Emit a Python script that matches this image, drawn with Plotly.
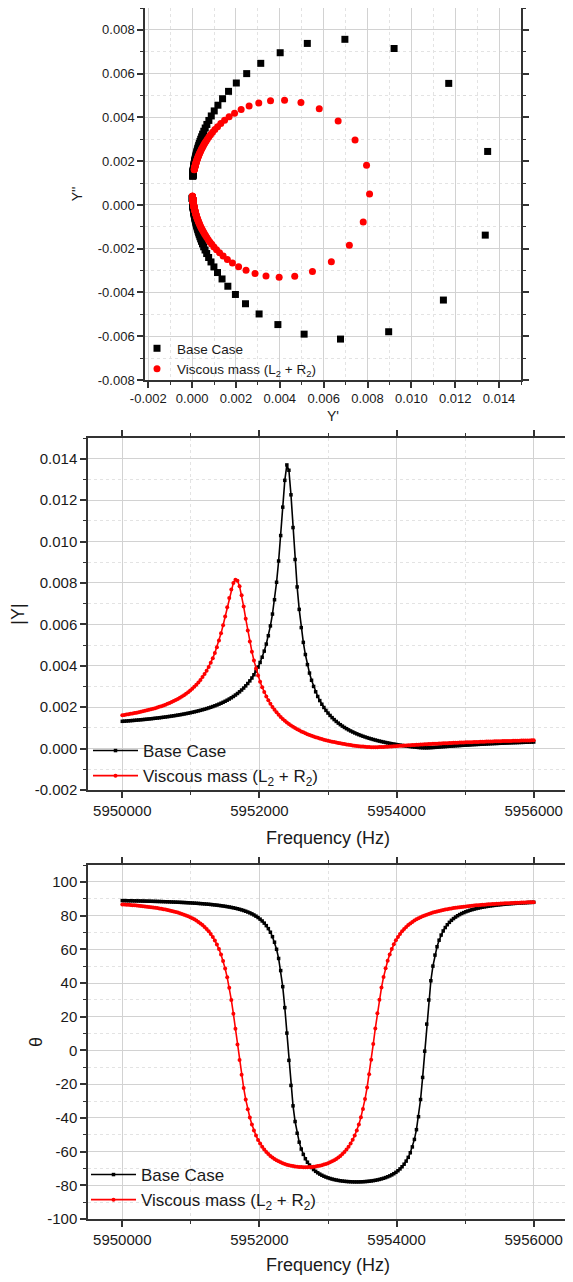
import numpy as np
import plotly.graph_objects as go

# ---------------- data ----------------
SERIES_NAMES = ["Base Case", "Viscous mass (L<sub>2</sub> + R<sub>2</sub>)"]

# frequency sweep (Hz): 5950000 .. 5956000, 30 Hz step
freq_hz = list(range(5950000, 5956001, 30))

# |Y| of the base case, in units of 1e-4 S
absY_base_e4 = [
    13.167, 13.242, 13.318, 13.397, 13.478, 13.560, 13.646, 13.734, 13.823, 13.916,
    14.010, 14.108, 14.209, 14.313, 14.419, 14.529, 14.643, 14.759, 14.879, 15.004,
    15.133, 15.265, 15.403, 15.544, 15.692, 15.844, 16.002, 16.166, 16.335, 16.512,
    16.696, 16.886, 17.085, 17.292, 17.507, 17.733, 17.968, 18.214, 18.470, 18.740,
    19.023, 19.320, 19.632, 19.960, 20.306, 20.672, 21.058, 21.467, 21.900, 22.361,
    22.851, 23.374, 23.932, 24.530, 25.172, 25.863, 26.609, 27.416, 28.291, 29.246,
    30.289, 31.435, 32.698, 34.096, 35.654, 37.398, 39.362, 41.591, 44.139, 47.074,
    50.489, 54.498, 59.257, 64.966, 71.882, 80.318, 90.601, 102.876, 116.61, 129.55,
    136.99, 134.41, 122.57, 106.74, 91.313, 78.073, 67.226, 58.437, 51.294, 45.429,
    40.561, 36.471, 32.996, 30.015, 27.431, 25.173, 23.184, 21.421, 19.847, 18.436,
    17.161, 16.006, 14.954, 13.993, 13.110, 12.298, 11.547, 10.852, 10.206, 9.605,
    9.044, 8.519, 8.026, 7.564, 7.128, 6.718, 6.331, 5.964, 5.618, 5.288,
    4.975, 4.678, 4.395, 4.126, 3.869, 3.623, 3.389, 3.164, 2.949, 2.744,
    2.546, 2.357, 2.176, 2.001, 1.834, 1.674, 1.520, 1.372, 1.231, 1.096,
    0.968, 0.847, 0.734, 0.630, 0.538, 0.462, 0.407, 0.380, 0.383, 0.413,
    0.463, 0.526, 0.597, 0.671, 0.747, 0.824, 0.901, 0.977, 1.052, 1.126,
    1.199, 1.270, 1.341, 1.409, 1.477, 1.543, 1.607, 1.670, 1.732, 1.793,
    1.852, 1.910, 1.967, 2.023, 2.078, 2.131, 2.184, 2.235, 2.286, 2.335,
    2.383, 2.431, 2.477, 2.523, 2.568, 2.612, 2.655, 2.698, 2.739, 2.780,
    2.820, 2.859, 2.898, 2.936, 2.974, 3.010, 3.046, 3.082, 3.117, 3.151,
    3.185,
]

# phase of the base case, degrees
theta_base = [
    88.87, 88.85, 88.82, 88.80, 88.78, 88.75, 88.72, 88.70, 88.67, 88.64,
    88.61, 88.58, 88.55, 88.52, 88.49, 88.45, 88.42, 88.38, 88.34, 88.30,
    88.26, 88.21, 88.17, 88.12, 88.07, 88.02, 87.97, 87.92, 87.86, 87.80,
    87.74, 87.67, 87.60, 87.53, 87.45, 87.37, 87.29, 87.21, 87.11, 87.02,
    86.92, 86.81, 86.70, 86.58, 86.45, 86.31, 86.17, 86.02, 85.85, 85.68,
    85.49, 85.29, 85.08, 84.85, 84.60, 84.33, 84.04, 83.72, 83.37, 82.99,
    82.57, 82.10, 81.59, 81.02, 80.37, 79.65, 78.82, 77.88, 76.80, 75.53,
    74.04, 72.26, 70.12, 67.48, 64.19, 60.00, 54.56, 47.37, 37.82, 25.39,
    10.28, -5.89, -20.77, -32.88, -42.17, -49.14, -54.42, -58.49, -61.68, -64.24,
    -66.32, -68.03, -69.46, -70.68, -71.73, -72.60, -73.37, -74.03, -74.62, -75.13,
    -75.57, -75.97, -76.31, -76.62, -76.88, -77.11, -77.31, -77.49, -77.63, -77.75,
    -77.84, -77.91, -77.96, -77.99, -78.00, -77.99, -77.95, -77.89, -77.81, -77.71,
    -77.58, -77.43, -77.25, -77.04, -76.80, -76.52, -76.20, -75.84, -75.43, -74.96,
    -74.43, -73.82, -73.12, -72.31, -71.38, -70.29, -69.01, -67.49, -65.66, -63.44,
    -60.69, -57.23, -52.79, -47.01, -39.32, -29.13, -16.01, -0.45, 15.61, 29.92,
    41.34, 50.03, 56.56, 61.53, 65.39, 68.44, 70.89, 72.90, 74.57, 75.98,
    77.18, 78.21, 79.12, 79.90, 80.60, 81.22, 81.77, 82.27, 82.71, 83.12,
    83.49, 83.83, 84.14, 84.42, 84.68, 84.93, 85.15, 85.36, 85.56, 85.74,
    85.91, 86.07, 86.22, 86.36, 86.49, 86.62, 86.74, 86.85, 86.95, 87.05,
    87.15, 87.24, 87.32, 87.40, 87.48, 87.56, 87.63, 87.69, 87.76, 87.82,
    87.88,
]

# |Y| of the viscous-mass case, in units of 1e-4 S
absY_visc_e4 = [
    16.120, 16.276, 16.438, 16.607, 16.782, 16.963, 17.151, 17.347, 17.551, 17.763,
    17.984, 18.215, 18.456, 18.708, 18.971, 19.247, 19.536, 19.840, 20.158, 20.494,
    20.846, 21.219, 21.612, 22.028, 22.468, 22.935, 23.432, 23.960, 24.523, 25.126,
    25.771, 26.463, 27.207, 28.010, 28.877, 29.818, 30.840, 31.956, 33.175, 34.514,
    35.988, 37.618, 39.424, 41.435, 43.677, 46.188, 48.999, 52.148, 55.660, 59.548,
    63.780, 68.257, 72.748, 76.862, 80.025, 81.592, 81.080, 78.423, 74.034, 68.591,
    62.763, 57.034, 51.682, 46.828, 42.496, 38.661, 35.275, 32.285, 29.638, 27.289,
    25.194, 23.320, 21.636, 20.117, 18.741, 17.490, 16.348, 15.303, 14.344, 13.459,
    12.642, 11.886, 11.183, 10.529, 9.918, 9.348, 8.813, 8.311, 7.839, 7.395,
    6.976, 6.580, 6.205, 5.850, 5.513, 5.193, 4.890, 4.600, 4.325, 4.062,
    3.812, 3.573, 3.344, 3.126, 2.917, 2.717, 2.526, 2.344, 2.169, 2.003,
    1.844, 1.693, 1.549, 1.413, 1.286, 1.167, 1.057, 0.958, 0.870, 0.797,
    0.738, 0.698, 0.675, 0.671, 0.685, 0.713, 0.754, 0.804, 0.860, 0.921,
    0.985, 1.052, 1.119, 1.187, 1.255, 1.323, 1.391, 1.457, 1.523, 1.588,
    1.652, 1.715, 1.777, 1.838, 1.898, 1.957, 2.014, 2.071, 2.126, 2.181,
    2.234, 2.287, 2.338, 2.389, 2.439, 2.487, 2.535, 2.582, 2.628, 2.673,
    2.718, 2.761, 2.804, 2.846, 2.888, 2.928, 2.968, 3.007, 3.046, 3.084,
    3.121, 3.158, 3.194, 3.229, 3.264, 3.298, 3.332, 3.365, 3.398, 3.430,
    3.462, 3.493, 3.523, 3.554, 3.583, 3.613, 3.641, 3.670, 3.698, 3.725,
    3.753, 3.779, 3.806, 3.832, 3.857, 3.883, 3.908, 3.932, 3.956, 3.980,
    4.004,
]

# phase of the viscous-mass case, degrees
theta_visc = [
    86.64, 86.55, 86.46, 86.36, 86.26, 86.16, 86.05, 85.94, 85.82, 85.69,
    85.56, 85.42, 85.27, 85.12, 84.96, 84.79, 84.61, 84.43, 84.23, 84.01,
    83.79, 83.55, 83.30, 83.03, 82.75, 82.44, 82.12, 81.77, 81.39, 80.99,
    80.55, 80.08, 79.57, 79.01, 78.41, 77.75, 77.02, 76.22, 75.34, 74.35,
    73.26, 72.03, 70.64, 69.07, 67.29, 65.23, 62.86, 60.11, 56.90, 53.10,
    48.63, 43.36, 37.16, 29.95, 21.78, 12.85, 3.52, -5.72, -14.40, -22.22,
    -29.04, -34.87, -39.82, -43.99, -47.52, -50.52, -53.07, -55.27, -57.16, -58.80,
    -60.23, -61.48, -62.58, -63.54, -64.39, -65.14, -65.81, -66.39, -66.91, -67.35,
    -67.75, -68.09, -68.39, -68.63, -68.84, -69.00, -69.13, -69.22, -69.27, -69.29,
    -69.27, -69.22, -69.13, -69.00, -68.83, -68.63, -68.38, -68.08, -67.74, -67.34,
    -66.89, -66.38, -65.79, -65.12, -64.38, -63.52, -62.56, -61.45, -60.20, -58.77,
    -57.12, -55.22, -53.02, -50.45, -47.44, -43.90, -39.71, -34.74, -28.88, -22.04,
    -14.20, -5.50, 3.75, 13.07, 21.99, 30.13, 37.31, 43.49, 48.76, 53.20,
    56.97, 60.18, 62.93, 65.29, 67.33, 69.11, 70.67, 72.06, 73.28, 74.38,
    75.36, 76.24, 77.04, 77.76, 78.42, 79.03, 79.58, 80.09, 80.56, 81.00,
    81.40, 81.78, 82.13, 82.45, 82.76, 83.04, 83.31, 83.56, 83.80, 84.02,
    84.23, 84.43, 84.62, 84.80, 84.97, 85.13, 85.28, 85.42, 85.56, 85.69,
    85.82, 85.94, 86.05, 86.16, 86.27, 86.37, 86.46, 86.56, 86.65, 86.73,
    86.81, 86.89, 86.97, 87.04, 87.11, 87.18, 87.24, 87.31, 87.37, 87.42,
    87.48, 87.54, 87.59, 87.64, 87.69, 87.74, 87.78, 87.83, 87.87, 87.91,
    87.95,
]

# tick values
x1_ticks = [-0.002, 0.000, 0.002, 0.004, 0.006, 0.008, 0.010, 0.012, 0.014]
y1_ticks = [-0.008, -0.006, -0.004, -0.002, 0.000, 0.002, 0.004, 0.006, 0.008]
freq_ticks = [5950000, 5952000, 5954000, 5956000]
y2_ticks = [-0.002, 0.000, 0.002, 0.004, 0.006, 0.008, 0.010, 0.012, 0.014]
y3_ticks = [-100, -80, -60, -40, -20, 0, 20, 40, 60, 80, 100]

# ---------------- derived (polar -> cartesian for the Nyquist plot) ----------------
absY_base = np.array(absY_base_e4) * 1e-4
absY_visc = np.array(absY_visc_e4) * 1e-4
tb = np.radians(theta_base)
tv = np.radians(theta_visc)
Yr_base, Yi_base = absY_base * np.cos(tb), absY_base * np.sin(tb)
Yr_visc, Yi_visc = absY_visc * np.cos(tv), absY_visc * np.sin(tv)

# ---------------- styling ----------------
OFF = 8                     # page body margin of the exported html
W, H = 573 - OFF, 1282 - OFF
FONT = "Liberation Sans, Arial, sans-serif"
AX = "#333333"
BLACK, RED = "#000000", "#ff0000"


def px_x(a, b):
    return [(a - OFF) / W, (b - OFF) / W]


def px_y(top, bottom):
    return [max(0.0, 1 - (bottom - OFF) / H), min(1.0, 1 - (top - OFF) / H)]


def axis(rng, ticks, labels, minor_dtick, minor_tick0, tsize, title, tfs, standoff, domain, anchor):
    return dict(
        range=rng, domain=domain, anchor=anchor,
        tickmode="array", tickvals=ticks, ticktext=labels,
        showline=True, linecolor=AX, linewidth=1.5, mirror="ticks",
        ticks="outside", ticklen=6, tickwidth=1.5, tickcolor=AX,
        tickfont=dict(family=FONT, size=tsize, color="#1a1a1a"),
        showgrid=True, gridcolor="#d2d2d2", gridwidth=1, zeroline=False,
        minor=dict(tickmode="linear", tick0=minor_tick0, dtick=minor_dtick,
                   ticks="outside", ticklen=3, tickwidth=1, tickcolor=AX,
                   showgrid=True, gridcolor="#e3e3e3", griddash="dot", gridwidth=1),
        title=dict(text=title, font=dict(family=FONT, size=tfs, color="#1a1a1a"), standoff=standoff),
        automargin=False,
    )


fig = go.Figure()

# Nyquist plot
fig.add_trace(go.Scatter(x=Yr_base, y=Yi_base, mode="markers", name=SERIES_NAMES[0],
                         marker=dict(symbol="square", size=7, color=BLACK),
                         xaxis="x", yaxis="y", legend="legend"))
fig.add_trace(go.Scatter(x=Yr_visc, y=Yi_visc, mode="markers", name=SERIES_NAMES[1],
                         marker=dict(symbol="circle", size=7, color=RED),
                         xaxis="x", yaxis="y", legend="legend"))

# |Y| vs frequency
fig.add_trace(go.Scatter(x=freq_hz, y=absY_base, mode="lines+markers", name=SERIES_NAMES[0],
                         line=dict(color=BLACK, width=1.6),
                         marker=dict(symbol="square", size=3.5, color=BLACK),
                         xaxis="x2", yaxis="y2", legend="legend2"))
fig.add_trace(go.Scatter(x=freq_hz, y=absY_visc, mode="lines+markers", name=SERIES_NAMES[1],
                         line=dict(color=RED, width=1.6),
                         marker=dict(symbol="circle", size=4, color=RED),
                         xaxis="x2", yaxis="y2", legend="legend2"))

# phase vs frequency
fig.add_trace(go.Scatter(x=freq_hz, y=theta_base, mode="lines+markers", name=SERIES_NAMES[0],
                         line=dict(color=BLACK, width=1.6),
                         marker=dict(symbol="square", size=3.5, color=BLACK),
                         xaxis="x3", yaxis="y3", legend="legend3"))
fig.add_trace(go.Scatter(x=freq_hz, y=theta_visc, mode="lines+markers", name=SERIES_NAMES[1],
                         line=dict(color=RED, width=1.6),
                         marker=dict(symbol="circle", size=4, color=RED),
                         xaxis="x3", yaxis="y3", legend="legend3"))

freq_labels = [str(v) for v in freq_ticks]

fig.update_layout(
    width=W, height=H,
    margin=dict(l=0, r=0, t=0, b=0),
    paper_bgcolor="white", plot_bgcolor="white",
    font=dict(family=FONT, color="#1a1a1a"),
    xaxis=axis([-0.00215, 0.015], x1_ticks, [f"{v:.3f}" for v in x1_ticks], 0.001, 0.0,
               13, "Y'", 14, 6, px_x(145, 521), "y"),
    yaxis=axis([-0.008, 0.009], y1_ticks, [f"{v:.3f}" for v in y1_ticks], 0.001, 0.0,
               13, "Y''", 14, 12, px_y(8, 380), "x"),
    xaxis2=axis([5949500, 5956500], freq_ticks, freq_labels, 1000, 5950000,
                15, "Frequency (Hz)", 18, 14, px_x(88, 568), "y2"),
    yaxis2=axis([-0.002, 0.015], y2_ticks, [f"{v:.3f}" for v in y2_ticks], 0.001, 0.0,
                15, "|Y|", 18, 14, px_y(438, 790), "x2"),
    xaxis3=axis([5949500, 5956500], freq_ticks, freq_labels, 1000, 5950000,
                15, "Frequency (Hz)", 18, 12, px_x(88, 568), "y3"),
    yaxis3=axis([-100, 110], y3_ticks, [str(v) for v in y3_ticks], 10, 0,
                15, "θ", 18, 0, px_y(865, 1219), "x3"),
    legend=dict(x=(137 - OFF) / W, y=1 - (333 - OFF) / H, xanchor="left", yanchor="top",
                bgcolor="rgba(0,0,0,0)", borderwidth=0,
                font=dict(family=FONT, size=13.5, color="#1a1a1a"), tracegroupgap=0),
    legend2=dict(x=(88 - OFF) / W, y=1 - (733 - OFF) / H, xanchor="left", yanchor="top",
                 bgcolor="rgba(0,0,0,0)", borderwidth=0, itemwidth=45,
                 font=dict(family=FONT, size=17, color="#1a1a1a"), tracegroupgap=0),
    legend3=dict(x=(86 - OFF) / W, y=1 - (1157 - OFF) / H, xanchor="left", yanchor="top",
                 bgcolor="rgba(0,0,0,0)", borderwidth=0, itemwidth=45,
                 font=dict(family=FONT, size=17, color="#1a1a1a"), tracegroupgap=0),
    showlegend=True,
)

fig.write_html("out.html")
